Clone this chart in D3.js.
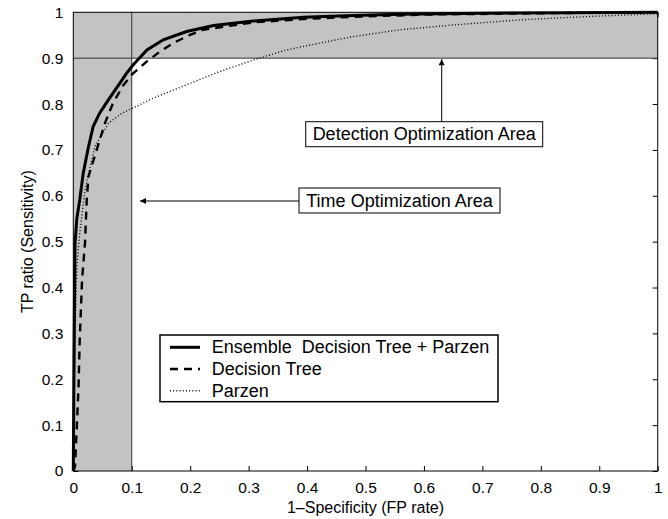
<!DOCTYPE html>
<html lang="en">
<head>
    <meta charset="utf-8">
    <title>ROC curves</title>
    <script src="https://d3js.org/d3.v7.min.js"></script>
    <style>
        body { margin: 0; background: white; }
        svg { display: block; font-family: "Liberation Sans", Arial, Helvetica, sans-serif; }
        .tick text { font-size: 15.5px; }
    </style>
</head>
<body>
<div id="chart"></div>
<script>
    const width = 668;
    const height = 519;
    const margin = ({ left: 73.3, right: 10.3, top: 12.3, bottom: 48 });

    // tick values
    const xTicks = [0, 0.1, 0.2, 0.3, 0.4, 0.5, 0.6, 0.7, 0.8, 0.9, 1];
    const yTicks = [0, 0.1, 0.2, 0.3, 0.4, 0.5, 0.6, 0.7, 0.8, 0.9, 1];

    // Ensemble Decision Tree + Parzen (FP rate, TP ratio)
    const ensembleFP = [0, 0.001, 0.002, 0.003, 0.006, 0.011, 0.017, 0.026, 0.034, 0.045, 0.06, 0.08, 0.091, 0.103, 0.126, 0.154, 0.194, 0.24, 0.308, 0.394, 0.479, 0.559, 0.7, 0.85, 1];
    const ensembleTP = [0, 0.2, 0.37, 0.497, 0.55, 0.591, 0.649, 0.707, 0.751, 0.78, 0.809, 0.846, 0.867, 0.886, 0.918, 0.94, 0.958, 0.971, 0.981, 0.989, 0.993, 0.996, 0.998, 0.999, 1];

    // Decision Tree
    const treeFP = [0, 0.003, 0.006, 0.009, 0.011, 0.015, 0.02, 0.023, 0.026, 0.04, 0.054, 0.068, 0.085, 0.1, 0.126, 0.148, 0.171, 0.2, 0.222, 0.308, 0.4, 0.5, 0.6, 0.8, 1];
    const treeTP = [0, 0.01, 0.097, 0.184, 0.286, 0.417, 0.497, 0.591, 0.642, 0.7, 0.758, 0.802, 0.84, 0.864, 0.893, 0.914, 0.933, 0.951, 0.962, 0.978, 0.986, 0.991, 0.995, 0.998, 1];

    // Parzen
    const parzenFP = [0, 0.002, 0.004, 0.006, 0.011, 0.02, 0.029, 0.037, 0.06, 0.083, 0.1, 0.137, 0.194, 0.251, 0.308, 0.365, 0.422, 0.479, 0.559, 0.656, 0.77, 0.884, 1];
    const parzenTP = [0, 0.2, 0.35, 0.446, 0.518, 0.613, 0.664, 0.707, 0.758, 0.78, 0.79, 0.813, 0.842, 0.871, 0.896, 0.918, 0.933, 0.947, 0.962, 0.973, 0.984, 0.991, 0.997];

    const seriesNames = ["Ensemble  Decision Tree + Parzen", "Decision Tree", "Parzen"];
    const seriesStyles = [
        { width: 3, dash: null },
        { width: 2.4, dash: "8,6" },
        { width: 1.4, dash: "1,2.2" }
    ];

    const svg = d3.select("#chart")
        .append("svg")
        .attr("width", width)
        .attr("height", height);

    const x = d3.scaleLinear()
        .domain([0, 1])
        .range([margin.left, width - margin.right]);
    const y = d3.scaleLinear()
        .domain([0, 1])
        .range([height - margin.bottom, margin.top]);

    // tick marks on all four sides (pointing inward)
    svg.append("g")
        .attr("transform", `translate(0,${y(0)})`)
        .call(d3.axisBottom(x).tickValues(xTicks).tickFormat(d3.format("~g")).tickSizeInner(-5).tickSizeOuter(0).tickPadding(11))
        .call(g => g.select(".domain").remove());
    svg.append("g")
        .attr("transform", `translate(${x(0)},0)`)
        .call(d3.axisLeft(y).tickValues(yTicks).tickFormat(d3.format("~g")).tickSizeInner(-5).tickSizeOuter(0).tickPadding(10))
        .call(g => g.select(".domain").remove());
    svg.append("g")
        .attr("transform", `translate(0,${y(1)})`)
        .call(d3.axisTop(x).tickValues(xTicks).tickFormat("").tickSizeInner(-5).tickSizeOuter(0))
        .call(g => g.select(".domain").remove());
    svg.append("g")
        .attr("transform", `translate(${x(1)},0)`)
        .call(d3.axisRight(y).tickValues(yTicks).tickFormat("").tickSizeInner(-5).tickSizeOuter(0))
        .call(g => g.select(".domain").remove());
    svg.selectAll(".tick text").attr("fill", "black");
    svg.selectAll(".tick line").attr("stroke", "black");

    // shaded optimization areas
    svg.append("rect")
        .attr("x", x(0)).attr("y", y(1))
        .attr("width", x(0.1) - x(0)).attr("height", y(0) - y(1))
        .attr("fill", "#c3c3c3");
    svg.append("rect")
        .attr("x", x(0)).attr("y", y(1))
        .attr("width", x(1) - x(0)).attr("height", y(0.9) - y(1))
        .attr("fill", "#c3c3c3");
    svg.append("line")
        .attr("x1", x(0.1)).attr("x2", x(0.1)).attr("y1", y(0)).attr("y2", y(1))
        .attr("stroke", "#333").attr("stroke-width", 1);
    svg.append("line")
        .attr("x1", x(0)).attr("x2", x(1)).attr("y1", y(0.9)).attr("y2", y(0.9))
        .attr("stroke", "#333").attr("stroke-width", 1);

    // curves
    const line = d3.line().x(d => x(d[0])).y(d => y(d[1]));
    const series = [
        d3.zip(ensembleFP, ensembleTP),
        d3.zip(treeFP, treeTP),
        d3.zip(parzenFP, parzenTP)
    ];
    series.forEach((pts, i) => {
        svg.append("path")
            .datum(pts)
            .attr("d", line)
            .attr("fill", "none")
            .attr("stroke", "black")
            .attr("stroke-width", seriesStyles[i].width)
            .attr("stroke-dasharray", seriesStyles[i].dash);
    });

    // plot border
    svg.append("rect")
        .attr("x", x(0)).attr("y", y(1))
        .attr("width", x(1) - x(0)).attr("height", y(0) - y(1))
        .attr("fill", "none").attr("stroke", "black").attr("stroke-width", 1);

    // arrows + annotation boxes
    svg.append("defs").append("marker")
        .attr("id", "arrow")
        .attr("viewBox", "0 0 10 10")
        .attr("refX", 10).attr("refY", 5)
        .attr("markerWidth", 10).attr("markerHeight", 6)
        .attr("markerUnits", "userSpaceOnUse")
        .attr("orient", "auto")
        .append("path")
        .attr("d", "M0,0L10,5L0,10z")
        .attr("fill", "black");

    svg.append("line")
        .attr("x1", 441.7).attr("y1", 121.7).attr("x2", 441.7).attr("y2", y(0.9) + 1)
        .attr("stroke", "black").attr("stroke-width", 1)
        .attr("marker-end", "url(#arrow)");
    svg.append("line")
        .attr("x1", 299).attr("y1", 201).attr("x2", 140).attr("y2", 201)
        .attr("stroke", "black").attr("stroke-width", 1)
        .attr("marker-end", "url(#arrow)");

    function labelBox(x0, y0, w, h, txt) {
        svg.append("rect")
            .attr("x", x0).attr("y", y0).attr("width", w).attr("height", h)
            .attr("fill", "white").attr("stroke", "black").attr("stroke-width", 1);
        svg.append("text")
            .attr("x", x0 + w / 2).attr("y", y0 + h / 2 + 6)
            .attr("text-anchor", "middle")
            .style("font-size", "18px")
            .text(txt);
    }
    labelBox(305.7, 121.7, 237, 25, "Detection Optimization Area");
    labelBox(299, 188, 201, 25, "Time Optimization Area");

    // legend
    const legend = svg.append("g");
    legend.append("rect")
        .attr("x", 160).attr("y", 335).attr("width", 338).attr("height", 66.7)
        .attr("fill", "white").attr("stroke", "black").attr("stroke-width", 1.5);
    seriesNames.forEach((name, i) => {
        const cy = 347.3 + i * 21.7;
        legend.append("line")
            .attr("x1", 170).attr("x2", 200).attr("y1", cy).attr("y2", cy)
            .attr("stroke", "black")
            .attr("stroke-width", seriesStyles[i].width)
            .attr("stroke-dasharray", seriesStyles[i].dash);
        legend.append("text")
            .attr("x", 211.7).attr("y", cy + 6)
            .style("font-size", "18px")
            .style("white-space", "pre")
            .text(name);
    });

    // axis labels
    svg.append("text")
        .attr("x", x(0.5)).attr("y", 513)
        .attr("text-anchor", "middle")
        .style("font-size", "16px")
        .text("1–Specificity (FP rate)");
    svg.append("text")
        .attr("transform", `translate(33,${(y(0) + y(1)) / 2}) rotate(-90)`)
        .attr("text-anchor", "middle")
        .style("font-size", "16px")
        .text("TP ratio (Sensitivity)");
</script>
</body>
</html>
